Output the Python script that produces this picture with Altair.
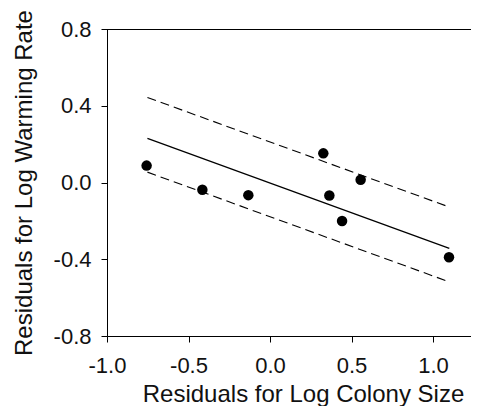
import altair as alt
import pandas as pd

# Data
point_x = [-0.757, -0.415, -0.133, 0.327, 0.364, 0.442, 0.556, 1.098]
point_y = [0.088, -0.038, -0.066, 0.152, -0.068, -0.201, 0.014, -0.390]

line_x = [-0.752, 1.100]
fit_y = [0.230, -0.343]
upper_y = [0.443, -0.128]
lower_y = [0.054, -0.518]

x_ticks = [-1.0, -0.5, 0.0, 0.5, 1.0]
y_ticks = [-0.8, -0.4, 0.0, 0.4, 0.8]

x_domain = [-1.0, 1.233]
y_domain = [-0.8, 0.8]

W, H = 364, 307
FONT = "Liberation Sans"

pts = pd.DataFrame({"x": point_x, "y": point_y})
fit = pd.DataFrame({"x": line_x, "y": fit_y})
up = pd.DataFrame({"x": line_x, "y": upper_y})
lo = pd.DataFrame({"x": line_x, "y": lower_y})

lab = "replace(format(datum.value, '.1f'), '\u2212', '-')"

common = dict(tickSize=6, labelFontSize=22, titleFontSize=24, grid=False, labelFlush=False,
              labelFontWeight="normal", titleFontWeight="normal", labelFont=FONT, titleFont=FONT,
              domainColor="black", tickColor="black", labelColor="#111", titleColor="#111")

xs = alt.X("x:Q", scale=alt.Scale(domain=x_domain, nice=False, zero=False),
           axis=alt.Axis(values=x_ticks, labelExpr=lab, title="Residuals for Log Colony Size",
                         labelPadding=13, titleX=196, titleY=65, titleBaseline="alphabetic",
                         titleAnchor="middle", **common))
ys = alt.Y("y:Q", scale=alt.Scale(domain=y_domain, nice=False, zero=False),
           axis=alt.Axis(values=y_ticks, labelExpr=lab, title="Residuals for Log Warming Rate",
                         labelPadding=10, titleX=-76, titleY=H / 2, titleAngle=-90,
                         titleAlign="center", titleBaseline="alphabetic", **common))

points = alt.Chart(pts).mark_circle(size=110, color="black", opacity=1).encode(x=xs, y=ys)
fit_line = alt.Chart(fit).mark_line(color="black", strokeWidth=1.3).encode(x="x:Q", y="y:Q")
up_line = alt.Chart(up).mark_line(color="black", strokeWidth=1.1, strokeDash=[9, 5]).encode(x="x:Q", y="y:Q")
lo_line = alt.Chart(lo).mark_line(color="black", strokeWidth=1.1, strokeDash=[9, 5]).encode(x="x:Q", y="y:Q")
top_rule = alt.Chart(pts).mark_rule(color="black", strokeWidth=1).encode(
    x=alt.value(0), x2=alt.value(W), y=alt.value(0.5))

chart = alt.layer(up_line, lo_line, fit_line, points, top_rule).properties(
    width=W, height=H,
    autosize=alt.AutoSizeParams(type="none"),
    padding={"left": 99, "top": 21, "right": 0, "bottom": 70},
).configure_view(stroke=None).configure(background="white")

chart.save("out.html", embed_options={"renderer": "svg", "actions": False})
